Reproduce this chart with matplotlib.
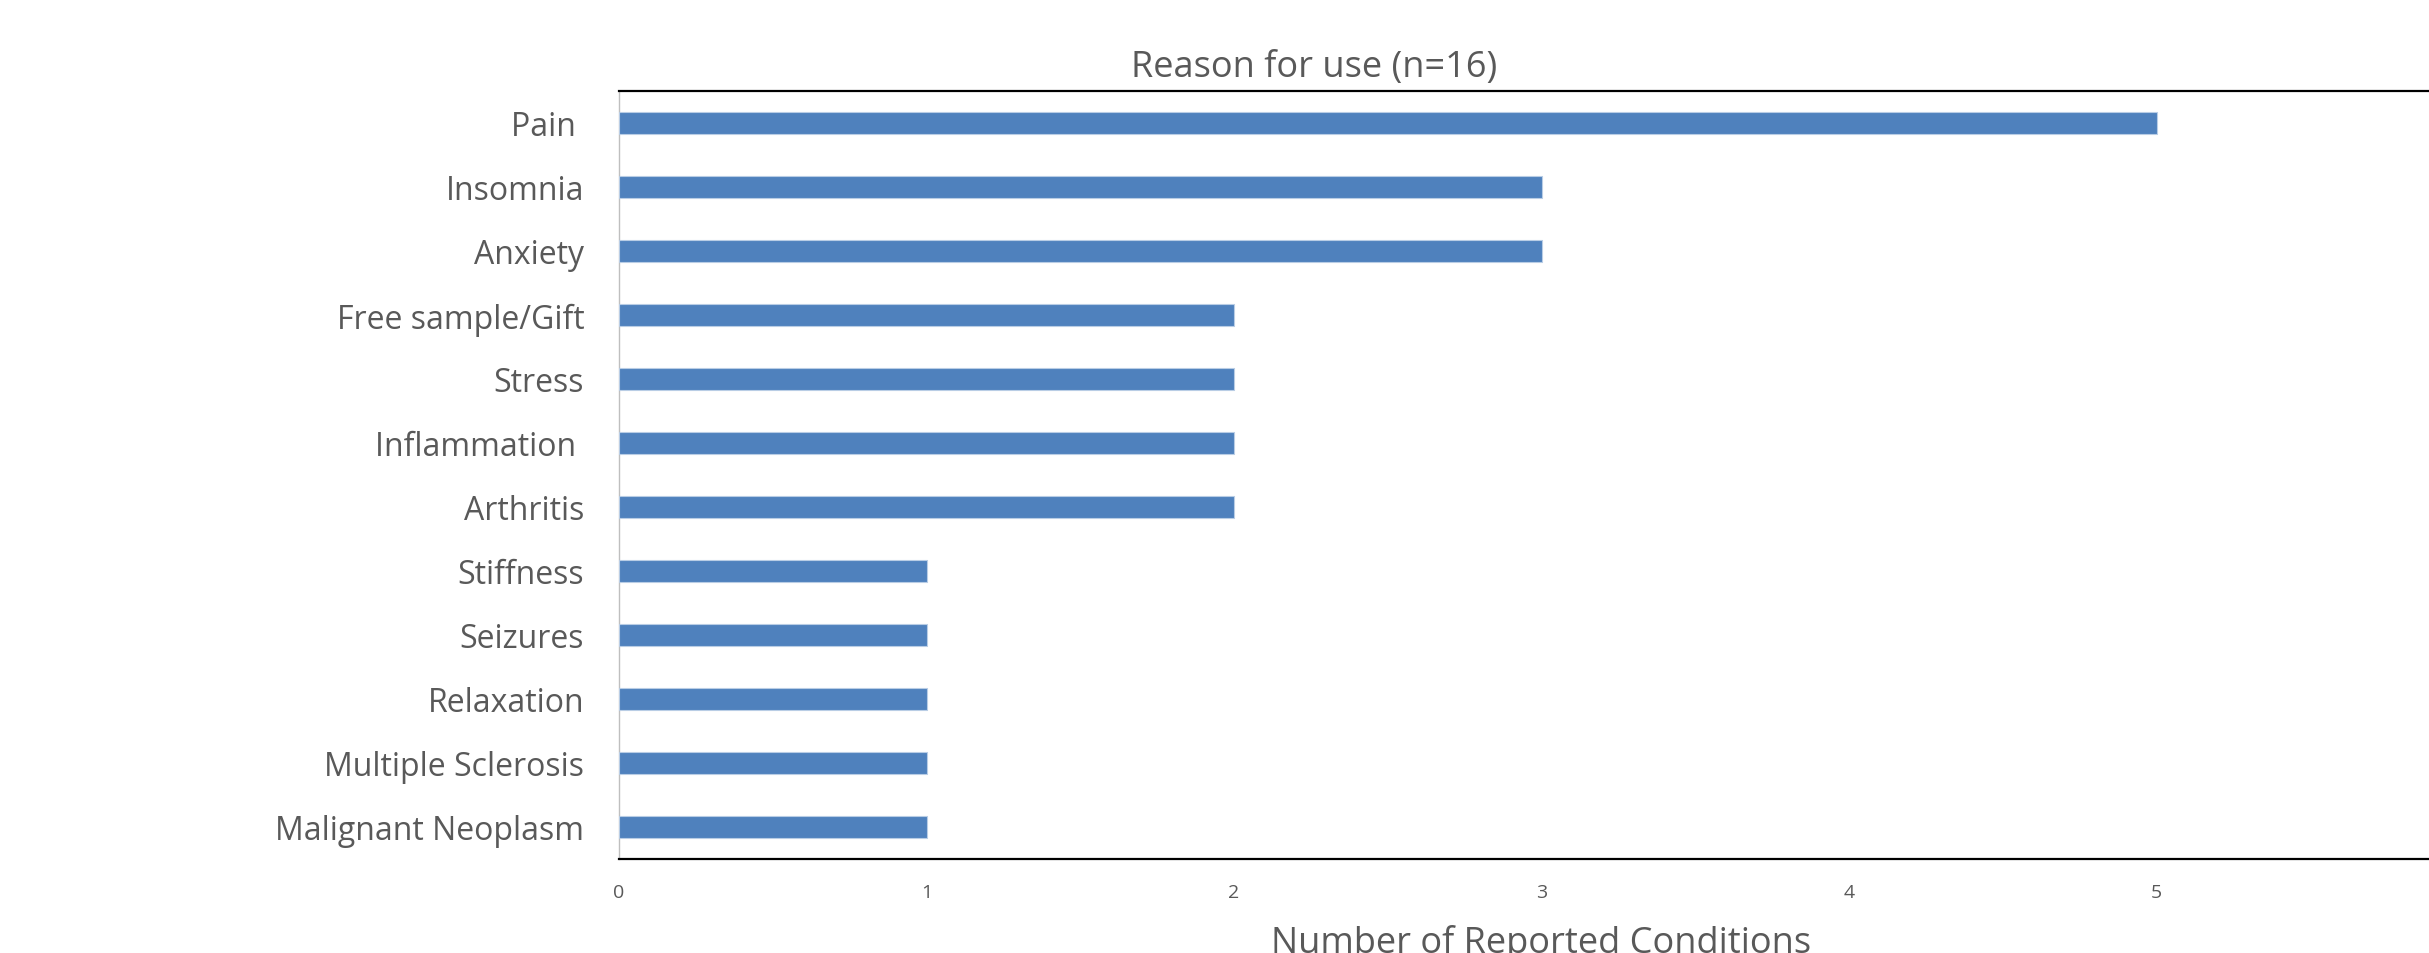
import matplotlib.pyplot as plt

reasons = ["Pain ", "Insomnia", "Anxiety", "Free sample/Gift", "Stress",
           "Inflammation ", "Arthritis", "Stiffness", "Seizures", "Relaxation",
           "Multiple Sclerosis", "Malignant Neoplasm"]
counts = [5, 3, 3, 2, 2, 2, 2, 1, 1, 1, 1, 1]
x_ticks = [0, 1, 2, 3, 4, 5]

plt.rcParams['font.family'] = ['Open Sans', 'DejaVu Sans']
grey = '#595959'

fig = plt.figure(figsize=(24.29, 9.54), dpi=100)
# axes run past the right edge, the reference is cropped there
ax = fig.add_axes([619 / 2429, 1 - 860 / 954, 1845 / 2429, 768 / 954])

ax.barh(range(len(reasons)), counts, height=0.35, color='#4f81bd',
        edgecolor='#b9cde5', linewidth=0.8, zorder=3)

ax.set_xlim(0, 6)
ax.set_ylim(len(reasons) - 0.5, -0.5)
ax.set_xticks(x_ticks)
ax.set_yticks(range(len(reasons)))
ax.set_yticklabels(reasons)

ax.tick_params(axis='y', length=0, pad=25, labelsize=23, labelcolor=grey)
ax.tick_params(axis='x', length=0, pad=17, labelsize=14, labelcolor=grey)

for side in ['top', 'bottom']:
    ax.spines[side].set_color('black')
    ax.spines[side].set_linewidth(1.6)
ax.spines['left'].set_color('#bfbfbf')
ax.spines['left'].set_linewidth(1.0)
ax.spines['right'].set_visible(False)

ax.set_xlabel("Number of Reported Conditions", fontsize=26, color=grey,
              va='baseline')
ax.xaxis.set_label_coords(0.5, (860 - 953) / 768)

fig.text(1314 / 2429, 1 - 77 / 954, "Reason for use (n=16)", ha='center',
         va='baseline', fontsize=26, color=grey)

fig.savefig("out.png", dpi=100)
